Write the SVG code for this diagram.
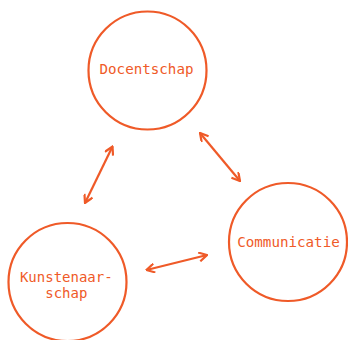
<svg xmlns="http://www.w3.org/2000/svg" width="348" height="340" viewBox="0 0 348 340">
<defs>
<style>
.node{fill:none;stroke:#EF5A28;stroke-width:2.2}
.lbl{fill:#EF5A28;font-family:"DejaVu Sans Mono","Liberation Mono",monospace;font-size:14.2px;text-anchor:middle}
.lbl2{font-size:14px}
.conn{stroke:#EF5A28;stroke-width:2.2;fill:none;marker-start:url(#ah);marker-end:url(#ah)}
</style>
<marker id="ah" viewBox="0 0 10 10" refX="9" refY="5" markerWidth="10" markerHeight="10" markerUnits="userSpaceOnUse" orient="auto-start-reverse">
<path d="M1,0.5 L9,5 L1,9.5" fill="none" stroke="#EF5A28" stroke-width="2.2"/>
</marker>
</defs>
<rect width="348" height="340" fill="#ffffff"/>
<g id="docentschap">
<circle class="node" cx="147.5" cy="70.5" r="59"/>
<text class="lbl" x="146.5" y="73.5">Docentschap</text>
</g>
<g id="communicatie">
<circle class="node" cx="288" cy="242" r="59"/>
<text class="lbl" x="288.5" y="246.5">Communicatie</text>
</g>
<g id="kunstenaarschap">
<circle class="node" cx="67.5" cy="282" r="59"/>
<text class="lbl lbl2" x="66.3" y="281.5">Kunstenaar-</text>
<text class="lbl lbl2" x="66.3" y="298">schap</text>
</g>
<g id="connectors">
<line class="conn" x1="112.5" y1="146.5" x2="85" y2="203"/>
<line class="conn" x1="200" y1="133" x2="240" y2="181"/>
<line class="conn" x1="207" y1="255" x2="146.5" y2="270"/>
</g>
</svg>
